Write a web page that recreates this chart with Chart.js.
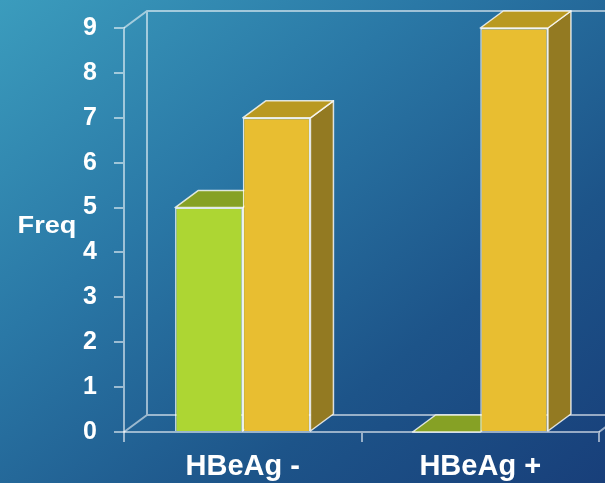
<!DOCTYPE html>
<html>
<head>
<meta charset="utf-8">
<script src="https://cdn.jsdelivr.net/npm/chart.js@4"></script>
<style>
  html, body { margin: 0; padding: 0; overflow: hidden; }
  body {
    width: 605px; height: 483px;
    background: linear-gradient(to bottom right, #3b9cbd 0%, #2a78a6 35%, #1d5489 70%, #183f7a 100%);
  }
</style>
</head>
<body>
<canvas id="chart" width="605" height="483"></canvas>
<script>
// data
const categories = ['HBeAg -', 'HBeAg +'];
const greenValues = [5, 0];
const yellowValues = [7, 9];
const yTicks = [0, 1, 2, 3, 4, 5, 6, 7, 8, 9];
const yTitle = 'Freq';

// depth of the fake 3d
const DX = 23, DY = -17;
const frameColor = 'rgba(255,255,255,0.55)';
const edgeColor = 'rgba(255,255,255,0.8)';

const faceColors = [
  { top: '#86a125', side: '#6f8a1c' },  // green
  { top: '#b99921', side: '#937a22' }   // yellow
];

function poly(ctx, pts, fill) {
  ctx.beginPath();
  ctx.moveTo(pts[0][0], pts[0][1]);
  for (let i = 1; i < pts.length; i++) ctx.lineTo(pts[i][0], pts[i][1]);
  ctx.closePath();
  ctx.fillStyle = fill;
  ctx.fill();
  ctx.stroke();
}

// back walls + bar tops/sides, drawn before the fronts
const depthPlugin = {
  id: 'depth',
  beforeDatasetsDraw(chart) {
    const ctx = chart.ctx;
    const a = chart.chartArea;
    ctx.save();
    ctx.strokeStyle = frameColor;
    ctx.lineWidth = 2;
    ctx.beginPath();
    // back wall + floor
    ctx.moveTo(a.left, a.top);
    ctx.lineTo(a.left + DX, a.top + DY);
    ctx.lineTo(chart.width, a.top + DY);
    ctx.moveTo(a.left + DX, a.top + DY);
    ctx.lineTo(a.left + DX, a.bottom + DY);
    ctx.lineTo(chart.width, a.bottom + DY);
    ctx.moveTo(a.left, a.bottom);
    ctx.lineTo(a.left + DX, a.bottom + DY);
    ctx.moveTo(a.right, a.bottom);
    ctx.lineTo(a.right + DX, a.bottom + DY);
    ctx.stroke();

    ctx.strokeStyle = edgeColor;
    ctx.lineWidth = 1.5;
    ctx.lineJoin = 'round';
    chart.data.datasets.forEach((ds, di) => {
      const meta = chart.getDatasetMeta(di);
      meta.data.forEach(bar => {
        const { x, y, base, width } = bar.getProps(['x', 'y', 'base', 'width'], true);
        const l = x - width / 2, r = x + width / 2;
        if (base - y > 0.5) {
          poly(ctx, [[r, y], [r + DX, y + DY], [r + DX, base + DY], [r, base]], faceColors[di].side);
        }
        poly(ctx, [[l, y], [l + DX, y + DY], [r + DX, y + DY], [r, y]], faceColors[di].top);
      });
    });
    ctx.restore();
  },
  afterDraw(chart) {
    // horizontal axis title, a bit stretched like the source
    const ctx = chart.ctx;
    const ys = chart.scales.y;
    ctx.save();
    ctx.fillStyle = '#ffffff';
    ctx.font = 'bold 24px "Liberation Sans", Arial, sans-serif';
    ctx.textAlign = 'center';
    ctx.textBaseline = 'middle';
    ctx.translate(47, (ys.top + ys.bottom) / 2 - 4);
    ctx.scale(1.13, 1);
    ctx.fillText(yTitle, 0, 0);
    ctx.restore();
  }
};

new Chart(document.getElementById('chart'), {
  type: 'bar',
  data: {
    labels: categories,
    datasets: [
      {
        label: 'Series 1',
        data: greenValues,
        backgroundColor: '#add633',
        borderColor: edgeColor,
        borderWidth: 1.5,
        borderSkipped: 'bottom',
        categoryPercentage: 0.57,
        barPercentage: 1
      },
      {
        label: 'Series 2',
        data: yellowValues,
        backgroundColor: '#e8be31',
        borderColor: edgeColor,
        borderWidth: 1.5,
        borderSkipped: 'bottom',
        categoryPercentage: 0.57,
        barPercentage: 1
      }
    ]
  },
  options: {
    responsive: false,
    animation: false,
    devicePixelRatio: 1,
    layout: { padding: { top: 28, right: 6, left: 0, bottom: 0 } },
    plugins: {
      legend: { display: false },
      tooltip: { enabled: false }
    },
    scales: {
      x: {
        offset: true,
        afterFit: s => { s.height = 51; },
        grid: { drawOnChartArea: false, tickLength: 10, color: frameColor, lineWidth: 2 },
        border: { color: frameColor, width: 2 },
        ticks: {
          color: '#ffffff',
          padding: 8,
          font: { family: '"Liberation Sans", Arial, sans-serif', size: 29, weight: 'bold' }
        }
      },
      y: {
        min: 0,
        max: 9,
        afterFit: s => { s.width = 124; s.paddingTop = 0; s.paddingBottom = 0; },
        afterBuildTicks: s => { s.ticks = yTicks.map(v => ({ value: v })); },
        grid: { drawOnChartArea: false, tickLength: 10, color: frameColor, lineWidth: 2 },
        border: { color: frameColor, width: 2 },
        ticks: {
          color: '#ffffff',
          padding: 17,
          font: { family: '"Liberation Sans", Arial, sans-serif', size: 25, weight: 'bold' }
        }
      }
    }
  },
  plugins: [depthPlugin]
});
</script>
</body>
</html>
